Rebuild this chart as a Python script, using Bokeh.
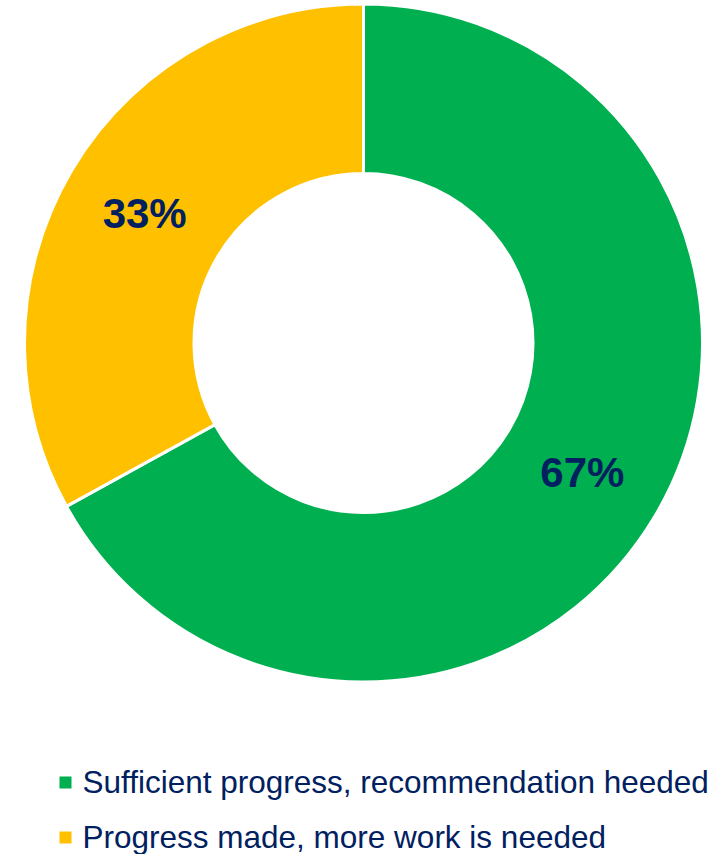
import numpy as np
from bokeh.plotting import figure
from bokeh.models import ColumnDataSource, Range1d
from bokeh.core.properties import value
from bokeh.embed import file_html
from bokeh.resources import INLINE

# ---- data ----
categories = ["Sufficient progress, recommendation heeded",
              "Progress made, more work is needed"]
shares = [67, 33]
labels = ["67%", "33%"]
colors = ["#00B050", "#FFC000"]
text_color = "#002060"

W, H = 725, 854
p = figure(width=W, height=H, output_backend="svg", toolbar_location=None,
           x_range=Range1d(0, W), y_range=Range1d(0, H),
           min_border=0, outline_line_color=None)
p.axis.visible = False
p.grid.visible = False
p.background_fill_color = "white"

# donut geometry (pixels)
cx, cy = 363, 511.5
r_in, r_out = 169.5, 339.0

frac = np.array(shares, dtype=float) / sum(shares)
cum = np.concatenate([[0], np.cumsum(frac)])
start = np.pi / 2 - 2 * np.pi * cum[:-1]
end = np.pi / 2 - 2 * np.pi * cum[1:]
mid = (start + end) / 2
r_mid = (r_in + r_out) / 2

src = ColumnDataSource(dict(
    start=start, end=end, color=colors, label=labels,
    lx=cx + r_mid * np.cos(mid), ly=cy + r_mid * np.sin(mid),
))

p.annular_wedge(x=cx, y=cy, inner_radius=r_in, outer_radius=r_out,
                start_angle="start", end_angle="end", direction="clock",
                fill_color="color", line_color="white", line_width=3,
                source=src)

p.text(x="lx", y="ly", text="label", source=src,
       text_font=value("Liberation Sans"), text_font_style="bold",
       text_font_size="42px", text_color=text_color,
       text_align="center", text_baseline="middle")

# legend (manual)
leg_y = np.array([72, 17])
leg_src = ColumnDataSource(dict(
    mx=[65, 65], my=leg_y, tx=[82, 82], ty=leg_y + 1,
    color=colors, name=categories,
))
p.scatter(x="mx", y="my", marker="square", size=12, fill_color="color",
          line_color=None, source=leg_src)
p.text(x="tx", y="ty", text="name", source=leg_src,
       text_font=value("Liberation Sans"), text_font_size="31.5px",
       text_color=text_color, text_align="left", text_baseline="middle")

open("out.html", "w").write(file_html(p, INLINE))
